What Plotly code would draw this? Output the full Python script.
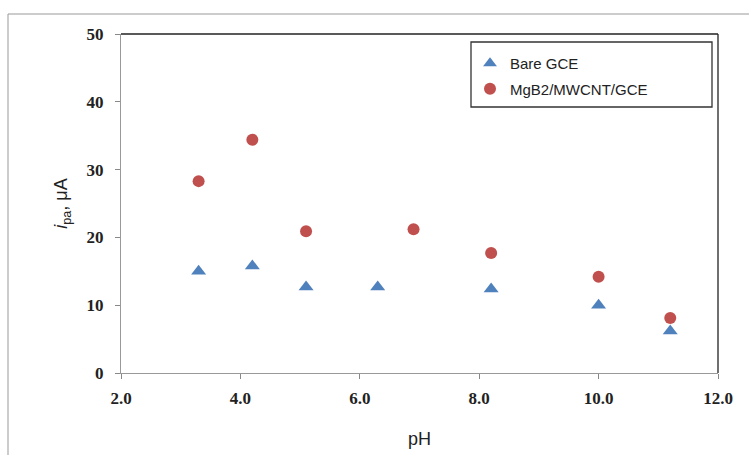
import plotly.graph_objects as go

ph_bare = [3.3, 4.2, 5.1, 6.3, 8.2, 10.0, 11.2]
ipa_bare = [15.0, 15.8, 12.7, 12.7, 12.4, 10.0, 6.2]
ph_mgb2 = [3.3, 4.2, 5.1, 6.9, 8.2, 10.0, 11.2]
ipa_mgb2 = [28.3, 34.4, 20.9, 21.2, 17.7, 14.2, 8.1]
x_ticks = [2, 4, 6, 8, 10, 12]
y_ticks = [0, 10, 20, 30, 40, 50]

fig = go.Figure()
fig.add_trace(go.Scatter(x=ph_bare, y=ipa_bare, mode="markers", name="Bare GCE", legendgroup="a",
                         marker=dict(symbol="triangle-up", size=13, color="#4F81BD")))
fig.add_trace(go.Scatter(x=ph_mgb2, y=ipa_mgb2, mode="markers", name="MgB2/MWCNT/GCE", legendgroup="b",
                         marker=dict(symbol="circle", size=12, color="#C0504D")))

W, H = 749, 455
L, R, T, B = 121, 718, 34, 373
pw, ph = R - L, B - T

def px(x):
    return (x - L) / pw

def py(y):
    return (B - y) / ph

tickfont = dict(family="Liberation Serif", size=17, color="#222", weight="bold")

fig.update_layout(
    width=W, height=H,
    margin=dict(l=L, r=W - R, t=T, b=H - B),
    paper_bgcolor="white", plot_bgcolor="white",
    showlegend=True,
    legend=dict(x=px(470), y=py(47), xanchor="left", yanchor="top",
                bgcolor="rgba(0,0,0,0)", borderwidth=0,
                font=dict(family="Liberation Sans, Arial", size=15, color="#222"),
                itemsizing="constant", tracegroupgap=3, itemwidth=30),
    xaxis=dict(range=[2, 12], tickvals=x_ticks, tickformat=".1f", automargin=False,
               ticks="outside", ticklen=5, tickcolor="#888", showgrid=False, zeroline=False,
               showline=True, linecolor="#999", linewidth=1, ticklabelstandoff=5,
               tickfont=tickfont,
               title=dict(text="pH", font=dict(family="Liberation Sans, Arial", size=18, color="#222"),
                          standoff=24)),
    yaxis=dict(range=[0, 50], tickvals=y_ticks, automargin=False,
               ticks="outside", ticklen=5, tickcolor="#888", showgrid=False, zeroline=False,
               showline=True, linecolor="#999", linewidth=1, ticklabelstandoff=8,
               tickfont=tickfont,
               title=dict(text="<i>i</i><sub>pa</sub>, μA",
                          font=dict(family="Liberation Sans, Arial", size=18, color="#222"),
                          standoff=14)),
    shapes=[
        dict(type="line", xref="paper", yref="paper", x0=0, x1=1, y0=1, y1=1,
             line=dict(color="#222", width=1.3), layer="below"),
        dict(type="line", xref="paper", yref="paper", x0=1, x1=1, y0=0, y1=1,
             line=dict(color="#222", width=1.3), layer="below"),
        dict(type="rect", xref="paper", yref="paper", x0=px(471), x1=px(712), y0=py(107), y1=py(42),
             line=dict(color="#333", width=1.3), fillcolor="rgba(0,0,0,0)", layer="below"),
        dict(type="rect", xref="paper", yref="paper", x0=px(8), x1=px(760), y0=py(470), y1=py(14),
             line=dict(color="#999", width=1), fillcolor="rgba(0,0,0,0)", layer="below"),
    ],
)

fig.write_html("out.html")
